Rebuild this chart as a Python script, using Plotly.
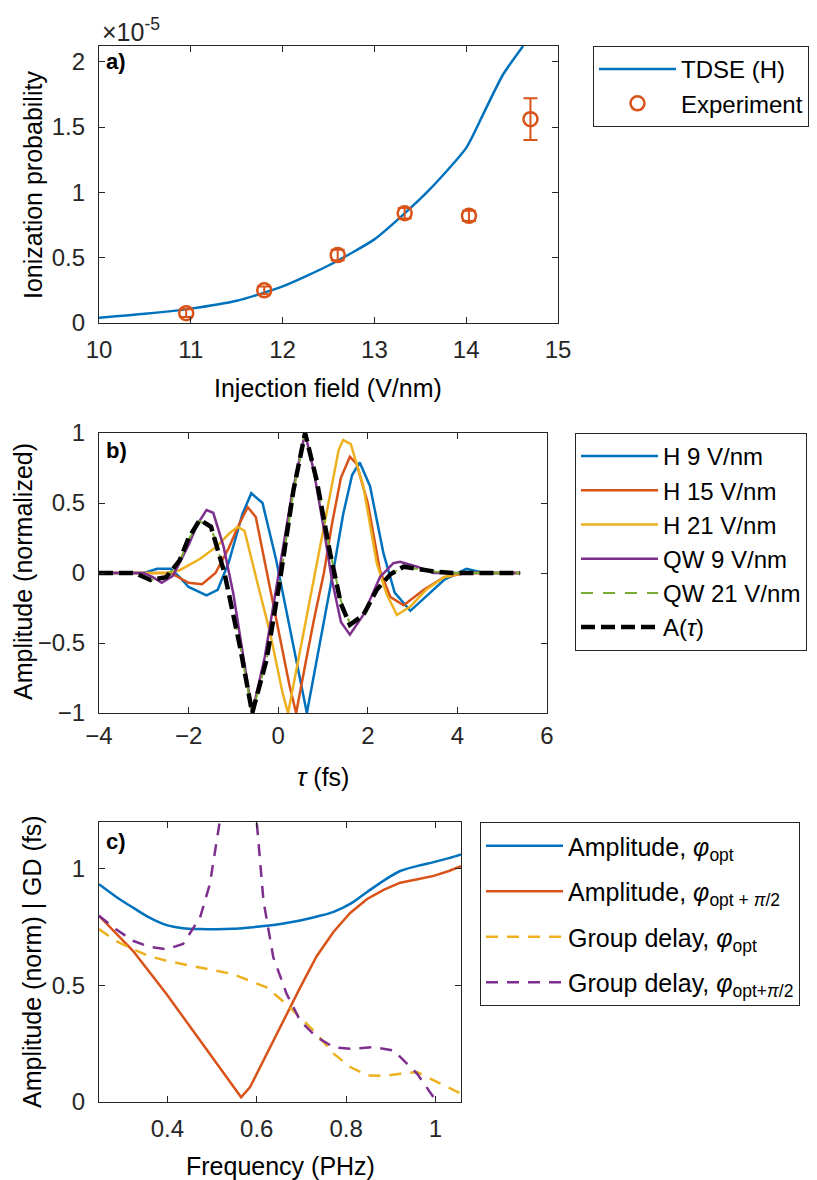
import plotly.graph_objects as go

W, H = 817, 1180
FONT = "Liberation Sans"
AXC = "#262626"
BLUE, ORANGE, YELLOW, PURPLE, GREEN = "#0072BD", "#D95319", "#EDB120", "#7E2F8E", "#77AC30"

# ---------------- panel a data (probability in units of 1e-5) ----------------
tdse_field = [10.0, 10.5, 11.0, 11.5, 12.0, 12.5, 13.0, 13.3, 13.6, 14.0, 14.2, 14.4, 14.62]
tdse_prob = [0.04, 0.07, 0.11, 0.17, 0.28, 0.44, 0.64, 0.82, 1.02, 1.34, 1.62, 1.90, 2.12]
exp_field = [10.95, 11.8, 12.6, 13.33, 14.03, 14.7]
exp_prob = [0.075, 0.25, 0.52, 0.84, 0.82, 1.56]
exp_err = [0.03, 0.03, 0.04, 0.04, 0.04, 0.16]

# ---------------- panel b data ----------------
h9_tau = [-4.0, -3.0, -2.7, -2.4, -2.2, -2.0, -1.6, -1.35, -1.1, -0.8, -0.6, -0.35, -0.05, 0.25, 0.5,
          0.64, 0.85, 1.05, 1.25, 1.45, 1.65, 1.82, 2.05, 2.35, 2.6, 2.95, 3.3, 3.7, 4.2, 4.6, 5.4]
h9_amp = [0, 0, 0.03, 0.03, -0.03, -0.1, -0.16, -0.12, 0.08, 0.42, 0.57, 0.5, 0.1, -0.38, -0.8,
          -1.0, -0.64, -0.3, 0.05, 0.42, 0.7, 0.79, 0.62, 0.14, -0.14, -0.27, -0.17, -0.05, 0.03, 0.0, 0.0]
h15_tau = [-4.0, -2.8, -2.4, -2.0, -1.7, -1.4, -1.1, -0.9, -0.68, -0.5, -0.3, 0.0, 0.25, 0.4, 0.6,
           0.8, 1.02, 1.2, 1.4, 1.6, 1.75, 2.0, 2.27, 2.5, 2.8, 3.25, 3.7, 4.2, 5.4]
h15_amp = [0, 0, 0.0, -0.07, -0.08, 0.0, 0.18, 0.33, 0.47, 0.4, 0.07, -0.4, -0.8, -1.0, -0.66,
           -0.33, 0.0, 0.35, 0.68, 0.83, 0.78, 0.5, 0.02, -0.17, -0.23, -0.12, -0.03, 0.0, 0.0]
h21_tau = [-4.0, -2.5, -2.2, -1.75, -1.37, -1.1, -0.9, -0.75, -0.48, -0.18, 0.1, 0.22, 0.45, 0.82,
           1.0, 1.2, 1.35, 1.45, 1.62, 1.9, 2.2, 2.42, 2.65, 2.95, 3.3, 3.7, 4.1, 5.4]
h21_amp = [0, 0, 0.02, 0.1, 0.19, 0.28, 0.33, 0.3, -0.05, -0.43, -0.86, -1.0, -0.62, 0.0,
           0.3, 0.65, 0.88, 0.95, 0.92, 0.62, 0.07, -0.15, -0.3, -0.24, -0.12, -0.03, 0.0, 0.0]
qw9_tau = [-4.0, -3.0, -2.8, -2.6, -2.35, -2.0, -1.8, -1.6, -1.45, -1.22, -1.0, -0.8, -0.58, -0.3,
           0.0, 0.3, 0.6, 0.8, 1.0, 1.2, 1.4, 1.6, 1.9, 2.27, 2.57, 2.72, 3.1, 3.46, 5.4]
qw9_amp = [0, 0, -0.03, -0.07, -0.02, 0.2, 0.35, 0.45, 0.43, 0.19, -0.15, -0.55, -1.0, -0.6,
           -0.03, 0.55, 1.0, 0.72, 0.35, -0.05, -0.35, -0.44, -0.3, -0.03, 0.07, 0.08, 0.045, 0.0, 0.0]
qw21_tau = [-4.0, -3.2, -2.85, -2.5, -2.2, -2.0, -1.75, -1.5, -1.2, -0.85, -0.58, -0.26, 0.04,
            0.34, 0.6, 0.86, 1.16, 1.4, 1.6, 1.9, 2.2, 2.5, 2.8, 3.1, 3.5, 3.9, 5.4]
qw21_amp = [0, 0, -0.05, -0.03, 0.08, 0.24, 0.37, 0.33, 0.01, -0.52, -1.0, -0.62, -0.05,
            0.58, 1.0, 0.66, 0.15, -0.2, -0.36, -0.3, -0.12, -0.01, 0.045, 0.03, 0.01, 0.0, 0.0]
a_tau = [-4.0, -3.2, -2.85, -2.5, -2.2, -2.0, -1.75, -1.5, -1.2, -0.85, -0.58, -0.26, 0.04,
         0.34, 0.6, 0.86, 1.16, 1.4, 1.6, 1.9, 2.2, 2.5, 2.8, 3.1, 3.5, 3.9, 5.4]
a_amp = [0, 0, -0.05, -0.03, 0.09, 0.25, 0.38, 0.33, 0.0, -0.53, -1.0, -0.62, -0.05,
         0.59, 1.0, 0.66, 0.14, -0.22, -0.37, -0.3, -0.12, -0.01, 0.045, 0.03, 0.01, 0.0, 0.0]

# ---------------- panel c data ----------------
amp_opt_f = [0.247, 0.285, 0.323, 0.36, 0.398, 0.435, 0.473, 0.51, 0.547, 0.585, 0.622, 0.66, 0.697,
             0.735, 0.772, 0.81, 0.847, 0.885, 0.921, 0.96, 0.996, 1.03, 1.057]
amp_opt_v = [0.933, 0.88, 0.833, 0.79, 0.758, 0.745, 0.741, 0.74, 0.742, 0.748, 0.755, 0.765, 0.778,
             0.795, 0.815, 0.85, 0.9, 0.95, 0.99, 1.012, 1.028, 1.045, 1.061]
amp_pi2_f = [0.247, 0.323, 0.398, 0.473, 0.547, 0.565, 0.585, 0.622, 0.66, 0.697, 0.734, 0.772,
             0.809, 0.847, 0.885, 0.921, 0.96, 0.996, 1.03, 1.057]
amp_pi2_v = [0.798, 0.648, 0.463, 0.264, 0.064, 0.02, 0.064, 0.207, 0.349, 0.49, 0.625, 0.73,
             0.81, 0.87, 0.91, 0.94, 0.955, 0.969, 0.99, 1.011]
gd_opt_f = [0.247, 0.285, 0.323, 0.36, 0.398, 0.473, 0.547, 0.622, 0.66, 0.697, 0.734, 0.772,
            0.809, 0.847, 0.885, 0.921, 0.959, 0.996, 1.03, 1.057]
gd_opt_v = [0.741, 0.69, 0.655, 0.625, 0.605, 0.577, 0.548, 0.491, 0.43, 0.363, 0.292, 0.207,
            0.15, 0.114, 0.112, 0.121, 0.128, 0.093, 0.06, 0.036]
gd_pi2_f = [0.247, 0.285, 0.323, 0.36, 0.398, 0.435, 0.473, 0.495, 0.517, 0.54, 0.565, 0.59,
            0.6, 0.615, 0.637, 0.667, 0.697, 0.734, 0.772, 0.809, 0.861, 0.906, 0.959, 1.003, 1.02]
gd_pi2_v = [0.798, 0.74, 0.691, 0.665, 0.655, 0.677, 0.79, 0.933, 1.2, 1.5, 2.2, 1.45,
            1.2, 0.862, 0.62, 0.463, 0.349, 0.278, 0.235, 0.228, 0.235, 0.221, 0.121, 0.0, -0.1]

TEXT_FONT = dict(family=FONT, size=25, color="black")


def px(x):
    return x / W


def py(y):
    return 1 - y / H


fig = go.Figure()

# panel a
fig.add_trace(go.Scatter(x=tdse_field, y=tdse_prob, mode="lines", name="TDSE (H)",
                         line=dict(color=BLUE, width=2.5, shape="spline", smoothing=0.6),
                         xaxis="x", yaxis="y", legend="legend", legendgroup="a1"))
fig.add_trace(go.Scatter(x=exp_field, y=exp_prob, mode="markers", name="Experiment",
                         marker=dict(symbol="circle-open", size=14, color=ORANGE, line=dict(width=2.5, color=ORANGE)),
                         error_y=dict(type="data", array=exp_err, color=ORANGE, thickness=2, width=7),
                         xaxis="x", yaxis="y", legend="legend", legendgroup="a2"))

# panel b
for i, (tx, ay, nm, col) in enumerate([(h9_tau, h9_amp, "H 9 V/nm", BLUE), (h15_tau, h15_amp, "H 15 V/nm", ORANGE),
                                       (h21_tau, h21_amp, "H 21 V/nm", YELLOW), (qw9_tau, qw9_amp, "QW 9 V/nm", PURPLE)]):
    fig.add_trace(go.Scatter(x=tx, y=ay, mode="lines", name=nm, line=dict(color=col, width=2.5),
                             xaxis="x2", yaxis="y2", legend="legend2", legendgroup="b%d" % i))
fig.add_trace(go.Scatter(x=qw21_tau, y=qw21_amp, mode="lines", name="QW 21 V/nm",
                         line=dict(color=GREEN, width=2, dash="12px,10px"), xaxis="x2", yaxis="y2",
                         legend="legend2", legendgroup="b4"))
fig.add_trace(go.Scatter(x=a_tau, y=a_amp, mode="lines", name="A(<i>τ</i>)",
                         line=dict(color="black", width=4.5, dash="14px,6px"), xaxis="x2", yaxis="y2",
                         legend="legend2", legendgroup="b5"))

# panel c
fig.add_trace(go.Scatter(x=amp_opt_f, y=amp_opt_v, mode="lines", name="Amplitude, <i>φ</i><sub>opt</sub>",
                         line=dict(color=BLUE, width=2.5, shape="spline"), xaxis="x3", yaxis="y3",
                         legend="legend3", legendgroup="c0"))
fig.add_trace(go.Scatter(x=amp_pi2_f, y=amp_pi2_v, mode="lines",
                         name="Amplitude, <i>φ</i><sub>opt + <i>π</i>/2</sub>",
                         line=dict(color=ORANGE, width=2.5), xaxis="x3", yaxis="y3",
                         legend="legend3", legendgroup="c1"))
fig.add_trace(go.Scatter(x=gd_opt_f, y=gd_opt_v, mode="lines", name="Group delay, <i>φ</i><sub>opt</sub>",
                         line=dict(color=YELLOW, width=2.5, dash="12px,9px"), xaxis="x3", yaxis="y3",
                         legend="legend3", legendgroup="c2"))
fig.add_trace(go.Scatter(x=gd_pi2_f, y=gd_pi2_v, mode="lines",
                         name="Group delay, <i>φ</i><sub>opt+<i>π</i>/2</sub>",
                         line=dict(color=PURPLE, width=2.5, dash="12px,9px"), xaxis="x3", yaxis="y3",
                         legend="legend3", legendgroup="c3"))

axis_common = dict(showline=True, linecolor=AXC, linewidth=1.3, mirror="ticks", ticks="inside",
                   ticklen=6, tickwidth=1, tickcolor=AXC, showgrid=False, zeroline=False,
                   tickfont=dict(family=FONT, size=24, color=AXC), automargin=False)

leg_common = dict(xanchor="left", yanchor="top", bordercolor=AXC, borderwidth=1, bgcolor="white",
                  itemwidth=77)

fig.update_layout(
    width=W, height=H, margin=dict(l=0, r=0, t=0, b=0, autoexpand=False),
    paper_bgcolor="white", plot_bgcolor="white", font=dict(family=FONT, color="black"),
    xaxis=dict(axis_common, domain=[px(99), px(558)], range=[10, 15], tickvals=[10, 11, 12, 13, 14, 15],
               anchor="y", ticklabelstandoff=5),
    yaxis=dict(axis_common, domain=[py(323), py(46)], range=[0, 2.12], tickvals=[0, 0.5, 1, 1.5, 2],
               anchor="x", ticklabelstandoff=8),
    xaxis2=dict(axis_common, domain=[px(99), px(547)], range=[-4, 6], tickvals=[-4, -2, 0, 2, 4, 6],
                anchor="y2", ticklabelstandoff=1),
    yaxis2=dict(axis_common, domain=[py(713), py(433)], range=[-1, 1], tickvals=[-1, -0.5, 0, 0.5, 1],
                anchor="x2", ticklabelstandoff=8),
    xaxis3=dict(axis_common, domain=[px(99), px(461)], range=[0.247, 1.057], tickvals=[0.4, 0.6, 0.8, 1],
                anchor="y3", ticklabelstandoff=5),
    yaxis3=dict(axis_common, domain=[py(1102), py(822)], range=[0, 1.2], tickvals=[0, 0.5, 1],
                anchor="x3", ticklabelstandoff=8),
    legend=dict(leg_common, x=px(593), y=py(46), tracegroupgap=0,
                font=dict(family=FONT, size=24, color="black")),
    legend2=dict(leg_common, x=px(575), y=py(433), tracegroupgap=0,
                 font=dict(family=FONT, size=24, color="black")),
    legend3=dict(leg_common, x=px(480), y=py(822), tracegroupgap=10,
                 font=dict(family=FONT, size=25, color="black")),
    showlegend=True,
)

ann = []
# axis titles
ann.append(dict(text="Injection field (V/nm)", x=px(328), y=py(388), xref="paper", yref="paper",
                showarrow=False, xanchor="center", yanchor="middle", font=TEXT_FONT))
ann.append(dict(text="<i>τ</i> (fs)", x=px(323), y=py(777), xref="paper", yref="paper",
                showarrow=False, xanchor="center", yanchor="middle", font=TEXT_FONT))
ann.append(dict(text="Frequency (PHz)", x=px(280), y=py(1166), xref="paper", yref="paper",
                showarrow=False, xanchor="center", yanchor="middle", font=TEXT_FONT))
ann.append(dict(text="Ionization probability", x=px(33), y=py(185), xref="paper", yref="paper",
                showarrow=False, textangle=-90, xanchor="center", yanchor="middle", font=TEXT_FONT))
ann.append(dict(text="Amplitude (normalized)", x=px(23), y=py(572), xref="paper", yref="paper",
                showarrow=False, textangle=-90, xanchor="center", yanchor="middle", font=TEXT_FONT))
ann.append(dict(text="Amplitude (norm) | GD (fs)", x=px(32), y=py(962), xref="paper", yref="paper",
                showarrow=False, textangle=-90, xanchor="center", yanchor="middle", font=TEXT_FONT))
# exponent
ann.append(dict(text="×10<sup>-5</sup>", x=px(100), y=py(30), xref="paper", yref="paper",
                showarrow=False, xanchor="left", yanchor="middle", font=dict(family=FONT, size=25, color=AXC)))
# panel labels
for lab, yy in [("a)", 62), ("b)", 450), ("c)", 841)]:
    ann.append(dict(text="<b>" + lab + "</b>", x=px(104), y=py(yy), xref="paper", yref="paper",
                    showarrow=False, xanchor="left", yanchor="middle", font=dict(family=FONT, size=22, color="black")))
fig.update_layout(annotations=ann)

fig.write_html("out.html")
